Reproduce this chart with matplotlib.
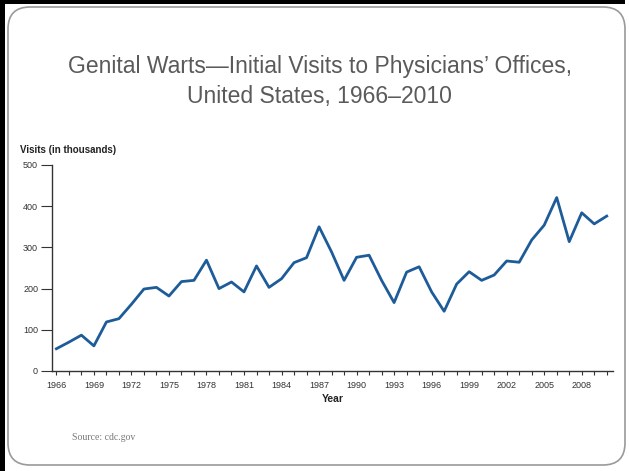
import matplotlib.pyplot as plt
from matplotlib.patches import FancyBboxPatch, Rectangle
from matplotlib.transforms import IdentityTransform

# Datos (miles de visitas)
anios = list(range(1966, 2011))
visitas = [54, 70, 87, 61, 119, 127, 162, 199, 203, 182,
           217, 220, 269, 200, 216, 192, 255, 203, 224, 263,
           275, 350, 289, 220, 276, 281, 220, 166, 240, 253,
           192, 145, 211, 241, 220, 233, 267, 264, 318, 354,
           421, 314, 384, 357, 376]
anios_etiqueta = list(range(1966, 2009, 3))

fuente = ["Liberation Sans", "DejaVu Sans"]

fig = plt.figure(figsize=(6.29, 4.71), dpi=100)

# Marco de la diapositiva
fig.patches.append(Rectangle((0, 0), 5, 471, transform=IdentityTransform(),
                             facecolor="black", edgecolor="none", zorder=-3))
fig.patches.append(Rectangle((0, 467), 625, 4, transform=IdentityTransform(),
                             facecolor="black", edgecolor="none", zorder=-3))
fig.patches.append(FancyBboxPatch((8, 6), 617, 458,
                                  boxstyle="round,pad=0,rounding_size=22",
                                  transform=IdentityTransform(),
                                  facecolor="white", edgecolor="#9a9a9a", linewidth=1.2,
                                  zorder=-2))

fig.text(0.508, 1 - 66 / 471, "Genital Warts\u2014Initial Visits to Physicians\u2019 Offices,",
         ha="center", va="center", fontsize=16.5, color="#5a5a5a", family=fuente)
fig.text(0.508, 1 - 97 / 471, "United States, 1966\u20132010",
         ha="center", va="center", fontsize=16.5, color="#5a5a5a", family=fuente)

ax = fig.add_axes([52 / 629, 1 - 371 / 471, (613 - 52) / 629, (371 - 165) / 471])
ax.patch.set_alpha(0)
ax.plot(anios, visitas, color="#1d5c99", linewidth=2.0)

ax.set_xlim(1965.65, 2010.5)
ax.set_ylim(0, 500)
ax.spines["top"].set_visible(False)
ax.spines["right"].set_visible(False)
ax.spines["left"].set_color("#333333")
ax.spines["bottom"].set_color("#333333")
ax.spines["left"].set_linewidth(1.0)
ax.spines["bottom"].set_linewidth(1.0)

ax.set_yticks([0, 100, 200, 300, 400, 500])
ax.set_xticks(anios_etiqueta)
ax.set_xticks(anios, minor=True)
ax.tick_params(axis="y", length=8, width=0.8, color="#333333", labelsize=6.5,
               labelcolor="#333333", pad=2)
ax.tick_params(axis="x", which="both", length=3, width=0.8, color="#333333",
               labelsize=6.5, labelcolor="#333333", pad=4)
for lbl in ax.get_xticklabels() + ax.get_yticklabels():
    lbl.set_family(fuente)

ax.set_xlabel("Year", fontsize=7.5, fontweight="bold", color="#222222",
              family=fuente, labelpad=3)
fig.text(20 / 629, 1 - 150 / 471, "Visits (in thousands)", ha="left", va="center",
         fontsize=7, fontweight="bold", color="#222222", family=fuente)

fig.text(72 / 629, 1 - 437 / 471, "Source: cdc.gov", ha="left", va="center",
         fontsize=7, color="#777777", family=["Liberation Serif", "DejaVu Serif"])

plt.savefig("out.png", dpi=100)
plt.close()
